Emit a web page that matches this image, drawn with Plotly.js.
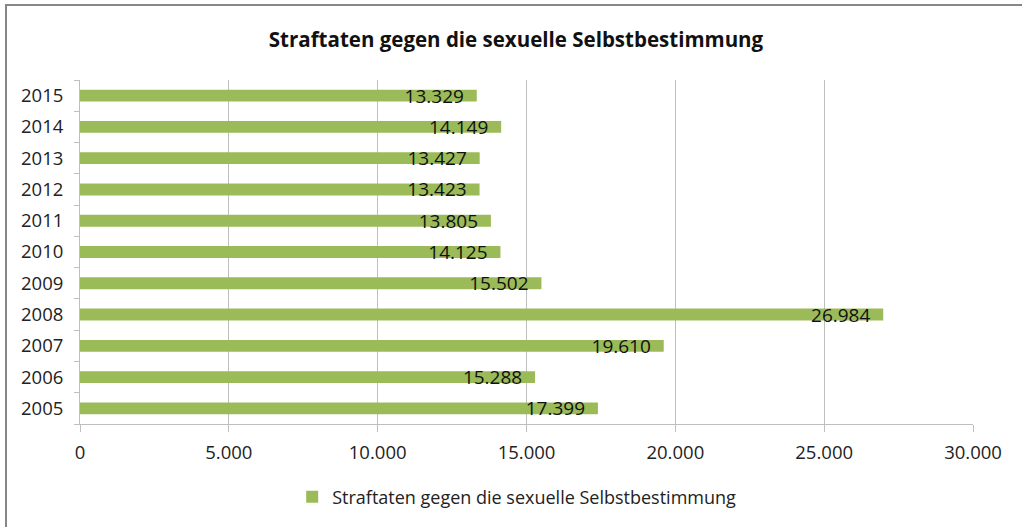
<!DOCTYPE html>
<html>
<head>
<meta charset="utf-8">
<script src="https://cdn.plot.ly/plotly-3.0.1.min.js"></script>
<style>
html,body{margin:0;padding:0;background:#fff;}
#wrap{position:relative;width:1022px;height:527px;overflow:hidden;}
#chart{position:absolute;left:0;top:0;width:1022px;height:527px;}
#frame{position:absolute;left:5px;top:4px;width:1100px;height:600px;border-left:2px solid #878787;border-top:2px solid #878787;pointer-events:none;}
</style>
</head>
<body>
<div id="wrap"><div id="chart"></div><div id="frame"></div></div>
<script>
var years = ['2005','2006','2007','2008','2009','2010','2011','2012','2013','2014','2015'];
var cases = [17399, 15288, 19610, 26984, 15502, 14125, 13805, 13423, 13427, 14149, 13329];
var seriesName = 'Straftaten gegen die sexuelle Selbstbestimmung';
var chartTitle = 'Straftaten gegen die sexuelle Selbstbestimmung';
var xTicks = [0, 5000, 10000, 15000, 20000, 25000, 30000];

var FONT = 'Open Sans, sans-serif';

var trace = {
  type: 'bar',
  orientation: 'h',
  y: years,
  x: cases,
  name: seriesName,
  marker: {color: '#9BBB59'},
  texttemplate: '%{x:,d}\u00A0\u00A0',
  textposition: 'inside',
  insidetextanchor: 'end',
  constraintext: 'none',
  textangle: 0,
  insidetextfont: {family: FONT, size: 19, color: '#111'},
  hoverinfo: 'x+y'
};

var layout = {
  width: 1022,
  height: 527,
  separators: ',.',
  paper_bgcolor: '#fff',
  plot_bgcolor: '#fff',
  margin: {l: 80, r: 49, t: 80, b: 102},
  bargap: 0.62,
  showlegend: true,
  title: {
    text: '<b>' + chartTitle + '</b>',
    font: {family: FONT, size: 20.5, color: '#111'},
    x: 516/1022, xanchor: 'center', xref: 'container',
    y: 1 - 40/527, yanchor: 'middle', yref: 'container'
  },
  xaxis: {
    range: [0, 30000],
    tickvals: xTicks,
    tickformat: ',d',
    showgrid: true,
    gridcolor: '#BFBFBF',
    gridwidth: 1,
    zeroline: false,
    showline: true,
    linecolor: '#BFBFBF',
    linewidth: 1,
    ticks: 'outside',
    ticklen: 7,
    tickcolor: '#BFBFBF',
    ticklabelstandoff: 5,
    tickfont: {family: FONT, size: 18.5, color: '#222'},
    fixedrange: true
  },
  yaxis: {
    type: 'category',
    showgrid: false,
    showline: true,
    linecolor: '#BFBFBF',
    linewidth: 1,
    ticks: 'outside',
    tickson: 'boundaries',
    ticklen: 5,
    tickcolor: '#BFBFBF',
    ticklabelstandoff: 12,
    tickfont: {family: FONT, size: 18.5, color: '#222'},
    fixedrange: true
  },
  legend: {
    orientation: 'h',
    x: 0.489, xanchor: 'center',
    y: -0.209, yanchor: 'middle',
    font: {family: FONT, size: 18, color: '#222'},
    itemwidth: 30
  }
};

Plotly.newPlot('chart', [trace], layout, {displayModeBar: false, staticPlot: true});
</script>
</body>
</html>
